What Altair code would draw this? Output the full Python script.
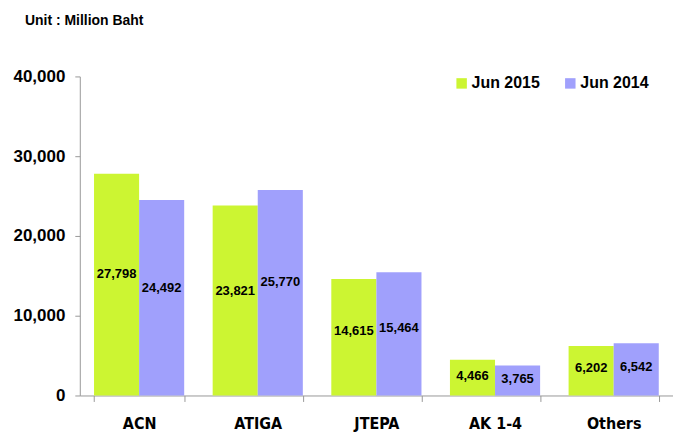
import altair as alt
import pandas as pd

categories = ["ACN", "ATIGA", "JTEPA", "AK 1-4", "Others"]
jun_2015 = [27798, 23821, 14615, 4466, 6202]
jun_2014 = [24492, 25770, 15464, 3765, 6542]
series = ["Jun 2015", "Jun 2014"]
colors = ["#CCF532", "#A0A0FC"]

rows = []
for i, c in enumerate(categories):
    rows.append({"cat": c, "series": series[0], "value": jun_2015[i]})
    rows.append({"cat": c, "series": series[1], "value": jun_2014[i]})
df = pd.DataFrame(rows)

x = alt.X("cat:N", sort=categories, title=None,
          scale=alt.Scale(paddingInner=0.24, paddingOuter=0.12),
          axis=alt.Axis(labelAngle=0, labelFont="DejaVu Sans Condensed", labelFontSize=16,
                        labelFontWeight="bold", labelColor="#000000", labelPadding=14,
                        tickSize=6, tickColor="#999999", domainColor="#999999",
                        bandPosition=0, tickBand="extent"))
xo = alt.XOffset("series:N", sort=series)
color = alt.Color("series:N", sort=series, scale=alt.Scale(domain=series, range=colors),
                  legend=alt.Legend(title=None, orient="none", legendX=375, legendY=-1,
                                    direction="horizontal", symbolType="square", symbolSize=110,
                                    symbolStrokeWidth=0, labelFont="Liberation Sans",
                                    labelFontSize=16, labelFontWeight="bold",
                                    labelColor="#000000", columnPadding=22, labelOffset=2))

bars = alt.Chart(df).mark_bar(opacity=1).encode(
    x=x, xOffset=xo,
    y=alt.Y("value:Q", title=None,
            scale=alt.Scale(domain=[0, 40000]),
            axis=alt.Axis(values=[0, 10000, 20000, 30000, 40000], format=",.0f",
                          grid=False, labelFont="Liberation Sans", labelFontSize=17,
                          labelFontWeight="bold", labelColor="#000000", labelPadding=10,
                          tickSize=5, tickColor="#999999", domainColor="#999999")),
    color=color,
)

labels = alt.Chart(df).transform_calculate(mid="datum.value * 0.55").mark_text(
    font="Liberation Sans", fontSize=13, fontWeight="bold", color="#000000"
).encode(
    x=alt.X("cat:N", sort=categories),
    xOffset=xo,
    y=alt.Y("mid:Q"),
    text=alt.Text("value:Q", format=",.0f"),
)

chart = alt.layer(bars, labels).properties(
    width=595, height=320,
    padding={"left": 5, "top": 5, "right": 0, "bottom": 0},
    title=alt.TitleParams("Unit : Million Baht", anchor="start", frame="bounds",
                          font="Liberation Sans", fontSize=14, fontWeight="bold",
                          color="#000000", offset=40, dx=12),
).configure_view(stroke=None)

chart.save("out.html", embed_options={"renderer": "svg", "actions": False})
